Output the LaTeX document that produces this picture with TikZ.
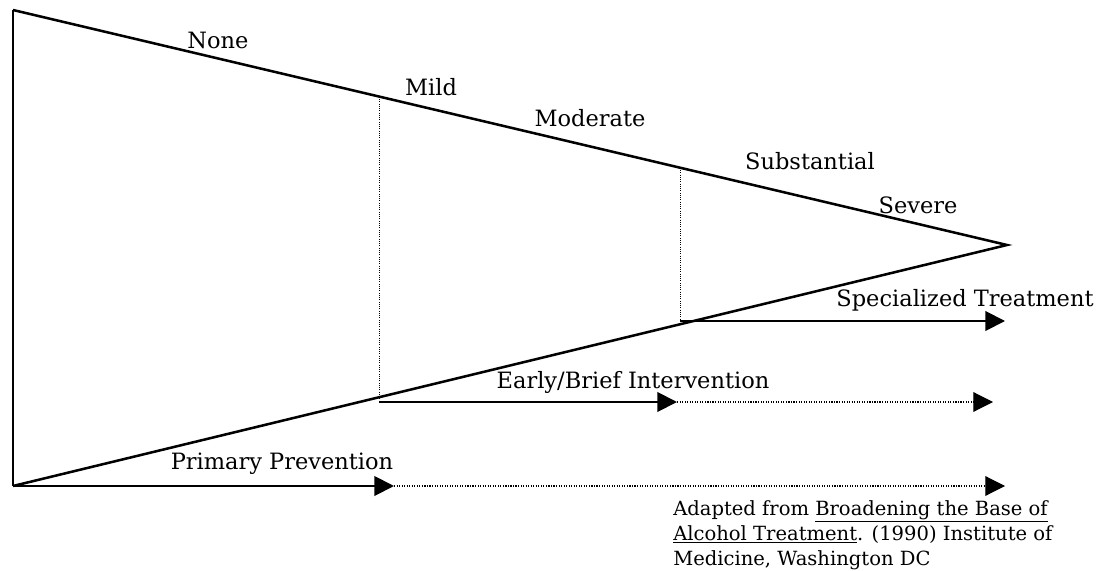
\documentclass[tikz,border=0pt]{standalone}
\usepackage{fontspec}
\setmainfont{DejaVu Serif}
\usetikzlibrary{arrows.meta}
\begin{document}
\begin{tikzpicture}[
			x=0.025cm, y=-0.025cm,
			edge/.style={line width=1.8pt},
			guide/.style={line width=0.6pt, densely dotted},
			reach/.style={line width=1.4pt, -{Triangle[length=14pt, width=14pt]}},
			later/.style={line width=0.8pt, densely dotted, -{Triangle[length=14pt, width=14pt]}},
			every node/.style={inner sep=0pt, font=\fontsize{16}{18}\selectfont}
		]
		\useasboundingbox (0,0) rectangle (1100,571);
		\coordinate (top) at (13,10);
		\coordinate (bot) at (13,486);
		\coordinate (tip) at (1007,245);
		\coordinate (mildT) at (379,97);
		\coordinate (mildB) at (379,402);
		\coordinate (subsT) at (680,168);
		\coordinate (subsB) at (680,321);
		\coordinate (briefE) at (677,402);
		\coordinate (briefF) at (993,402);
		\coordinate (specE) at (1005,321);
		\coordinate (primE) at (394,486);
		\coordinate (primF) at (1005,486);
		\draw[line width=1.3pt] (top) -- (bot);
		\draw[edge] (top) -- (tip) -- (bot);
		\draw[guide] (mildT) -- (mildB);
		\draw[guide] (subsT) -- (subsB);
		\node (none) at (218,40) {None};
		\node (mild) at (431,87) {Mild};
		\node (moderate) at (590,118) {Moderate};
		\node (substantial) at (810,161) {Substantial};
		\node (severe) at (918,205) {Severe};
		\node (spec) at (965,300) {Specialized Treatment};
		\node (brief) at (633,382) {Early/Brief Intervention};
		\node (prim) at (282,464) {Primary Prevention};
		\draw[reach] (subsB) -- (specE);
		\draw[reach] (mildB) -- (briefE);
		\draw[later] (briefE) -- (briefF);
		\draw[reach] (bot) -- (primE);
		\draw[later] (primE) -- (primF);
		\node (source) [anchor=north west, align=left, font=\fontsize{13.9}{18}\selectfont] at (673,500)
			{Adapted from \underline{Broadening the Base of}\\
			\underline{Alcohol Treatment}. (1990) Institute of\\
			Medicine, Washington DC};
	\end{tikzpicture}
\end{document}
